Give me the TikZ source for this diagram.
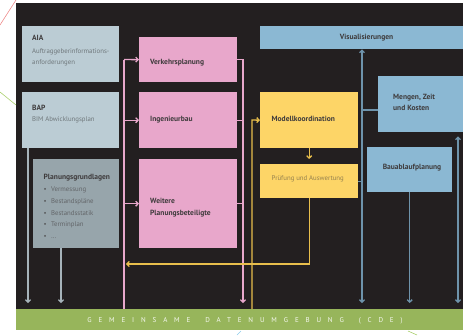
\documentclass[tikz,border=0pt]{standalone}
\usepackage{fontspec}
\setmainfont{PT Sans}
\newfontfamily\spacedfont[LetterSpace=98]{PT Sans}
\usetikzlibrary{arrows.meta}
\definecolor{bg}{HTML}{231F20}
\definecolor{aiac}{HTML}{BBCCD4}
\definecolor{pgc}{HTML}{97A5AB}
\definecolor{pinkc}{HTML}{E8A7CB}
\definecolor{yelc}{HTML}{FDD567}
\definecolor{yline}{HTML}{E8BE4C}
\definecolor{bluec}{HTML}{8BB8D3}
\definecolor{bline}{HTML}{6E93AB}
\definecolor{gline}{HTML}{A6B3BA}
\definecolor{cdec}{HTML}{97B55B}
\definecolor{headc}{HTML}{3E3B3C}
\definecolor{subc}{HTML}{6F777B}
\definecolor{decopink}{HTML}{EE8C8C}
\definecolor{decogreen}{HTML}{A9CF6C}
\definecolor{decoblue}{HTML}{8CCBEA}
\begin{document}
\begin{tikzpicture}[x=1pt,y=-1pt,
  box/.style={draw=none,inner sep=0pt,anchor=north west},
  hd/.style={anchor=base west,inner sep=0pt,font=\fontsize{7.5}{9}\selectfont\bfseries,text=headc},
  sb/.style={anchor=base west,inner sep=0pt,font=\fontsize{6.8}{8}\selectfont,text=subc},
  tip/.style={-{Straight Barb[length=2.4pt,width=5pt]}},
  pl/.style={draw=pinkc,line width=1.3pt},
  yl/.style={draw=yline,line width=1.3pt},
  bl/.style={draw=bline,line width=1.3pt},
  gl/.style={draw=gline,line width=1.3pt}]
\useasboundingbox (0,0) rectangle (463,335);
\fill[bg] (16,3) rectangle (463,309);
% decorative lines
\draw[decopink,line width=0.6pt] (0,25) -- (16,0);
\draw[decogreen,line width=0.6pt] (0,92) -- (16,105);
\draw[decoblue,line width=0.6pt] (241,331) -- (237,335);
\draw[decogreen,line width=0.6pt] (408,331) -- (417,335);
% boxes
\node[box,fill=aiac,minimum width=97pt,minimum height=56pt] (aia) at (22,26) {};
\node[box,fill=aiac,minimum width=97pt,minimum height=56pt] (bap) at (22,92) {};
\node[box,fill=pgc,minimum width=86pt,minimum height=89pt] (pg) at (33,159) {};
\node[box,fill=pinkc,minimum width=98pt,minimum height=45pt] (verk) at (139,37) {};
\node[box,fill=pinkc,minimum width=98pt,minimum height=56pt] (ing) at (139,92) {};
\node[box,fill=pinkc,minimum width=98pt,minimum height=89pt] (weit) at (139,159) {};
\node[box,fill=yelc,minimum width=98pt,minimum height=56pt] (mod) at (260,92) {};
\node[box,fill=yelc,minimum width=98pt,minimum height=34pt] (pruef) at (260,164) {};
\node[box,fill=bluec,minimum width=203pt,minimum height=23pt] (vis) at (260,26) {};
\node[box,fill=bluec,minimum width=85pt,minimum height=56pt] (meng) at (378,76) {};
\node[box,fill=bluec,minimum width=85pt,minimum height=45pt] (bau) at (367,147) {};
\node[box,fill=cdec,minimum width=447pt,minimum height=21pt] (cde) at (16,309) {};
% texts
\node[hd] (aia-t1) at (32,40.5) {AIA};
\node[sb] (aia-t2) at (32,53) {Auftraggeberinformations-};
\node[sb] (aia-t3) at (32,64) {anforderungen};
\node[hd] (bap-t1) at (32,110.5) {BAP};
\node[sb] (bap-t2) at (32,121.5) {BIM Abwicklungsplan};
\node[hd] (pg-t0) at (43.5,179.5) {Planungsgrundlagen};
\foreach \y/\t [count=\i] in {191.5/Vermessung,203.5/Bestandspläne,215/Bestandsstatik,226.5/Terminplan,238/\dots}{
  \node[sb,text=headc!70!pgc] (pg-b\i) at (43.5,\y) {\textbullet};
  \node[sb,text=headc!60!pgc] (pg-t\i) at (51,\y) {\t};
}
\node[hd] (verk-t) at (150,64) {Verkehrsplanung};
\node[hd] (ing-t) at (150,121.5) {Ingenieurbau};
\node[hd] (weit-t1) at (150,203.5) {Weitere};
\node[hd] (weit-t2) at (150,215) {Planungsbeteiligte};
\node[hd] (mod-t) at (271.5,121.5) {Modellkoordination};
\node[sb,text=headc!55!yelc] (pruef-t) at (271.5,180.5) {Prüfung und Auswertung};
\node[hd,anchor=base] (vis-t) at (366.5,39) {Visualisierungen};
\node[hd] (meng-t1) at (393,99) {Mengen, Zeit};
\node[hd] (meng-t2) at (393,110.5) {und Kosten};
\node[hd,anchor=base] (bau-t) at (412,169) {Bauablaufplanung};
\node[anchor=base,inner sep=0pt,text=white!90!cdec,font=\fontsize{7}{8}\selectfont\spacedfont] (cde-t) at (245,322.5) {GEMEINSAME\hspace{15pt}DATENUMGEBUNG\hspace{15pt}(CDE)};
% coordinates
\coordinate (l1) at (28,303);
\coordinate (l2) at (61,303);
\coordinate (pltop) at (124,59.5);
\coordinate (pr) at (243,303);
\coordinate (ycor) at (252,120);
\coordinate (yb) at (126,264);
\coordinate (bv) at (362,303);
\coordinate (mj) at (362,110);
\coordinate (br) at (458,303);
% gray connectors
\draw[gl,tip] (bap.south -| l1) -- (l1);
\draw[gl,tip] (pg.south -| l2) -- (l2);
% pink connectors
\draw[pl] (cde.north -| pltop) -- (pltop);
\draw[pl,tip] (pltop) -- (verk.west);
\draw[pl,tip] (ing.west -| pltop) -- (ing.west);
\draw[pl,tip] (weit.west -| pltop) -- (weit.west);
\draw[pl,tip] (verk.east) -- (verk.east -| pr) -- (pr);
\draw[pl] (ing.east) -- (ing.east -| pr);
\draw[pl] (weit.east) -- (weit.east -| pr);
% yellow connectors
\draw[yl,tip] (cde.north -| ycor) -- (ycor) -- (mod.west);
\draw[yl,tip,shorten >=5pt] (mod.south) -- (pruef.north);
\draw[yl,tip] (pruef.south) -- (pruef.south |- yb) -- (yb);
% blue connectors
\draw[bl,{Straight Barb[length=2.4pt,width=5pt]}-{Straight Barb[length=2.4pt,width=5pt]}] (vis.south -| bv) -- (bv);
\draw[bl] (mj) -- (mj -| meng.west);
\draw[bl] (pruef.east) -- (pruef.east -| bv);
\draw[bl,tip] (bau.south) -- (bau.south |- bv);
\draw[bl,{Straight Barb[length=2.4pt,width=5pt]}-{Straight Barb[length=2.4pt,width=5pt]},shorten <=4pt] (meng.south -| br) -- (br);
\end{tikzpicture}
\end{document}
